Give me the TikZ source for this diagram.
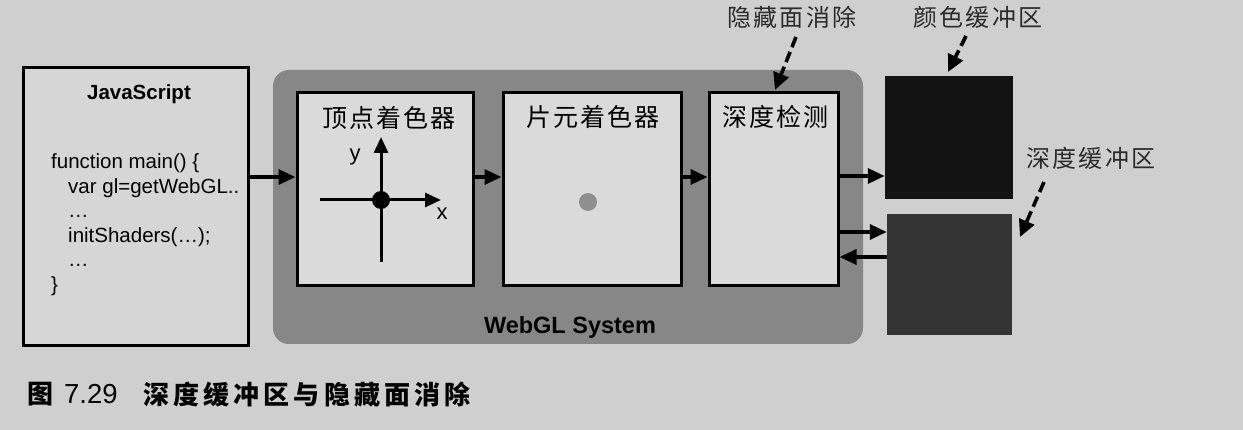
\documentclass[tikz,border=0pt]{standalone}
\usepackage{fontspec}
\setmainfont{Liberation Sans}
\newfontfamily\cjkbox[LetterSpace=8]{Noto Sans CJK SC}
\newfontfamily\cjklab[LetterSpace=10]{Noto Sans CJK SC}
\newfontfamily\cjkcap[LetterSpace=16]{Noto Sans CJK SC}
\newfontfamily\cjkplain{Noto Sans CJK SC}
\usetikzlibrary{arrows.meta}
\definecolor{bgcol}{HTML}{CFCFCF}
\definecolor{boxfill}{HTML}{DADADA}
\definecolor{jsfill}{HTML}{D6D6D6}
\definecolor{glfill}{HTML}{878787}
\definecolor{cbfill}{HTML}{131313}
\definecolor{dbfill}{HTML}{343434}
\definecolor{dotcol}{HTML}{8F8F8F}
\definecolor{labcol}{HTML}{2A2A2A}
\begin{document}
\begin{tikzpicture}[x=1pt,y=-1pt,
  arr/.style={line width=3.4pt,-{Triangle[length=17pt,width=15pt]}},
  axarr/.style={line width=3pt,-{Triangle[length=16pt,width=14pt]}},
  darr/.style={line width=3.6pt,dash pattern=on 11pt off 5pt,-{Triangle[length=17pt,width=16pt]}},
  stagebox/.style={draw=black,line width=3pt,fill=boxfill,inner sep=0pt,minimum height=193pt},
  codetxt/.style={anchor=base west,inner sep=0pt,font=\fontsize{20.5pt}{24pt}\selectfont},
  boxlab/.style={inner sep=0pt,font=\cjkbox\fontsize{25pt}{28pt}\selectfont},
  toplab/.style={inner sep=0pt,text=labcol,font=\cjklab\fontsize{24pt}{27pt}\selectfont},
  bufbox/.style={inner sep=0pt,draw=none}]
\fill[bgcol] (0,0) rectangle (1243,430);
\useasboundingbox (0,0) rectangle (1243,430);

% JavaScript box
\node[draw=black,line width=3pt,fill=jsfill,inner sep=0pt,minimum width=225pt,minimum height=278pt] (js) at (135.5,207) {};
\node[anchor=base,inner sep=0pt,font=\bfseries\fontsize{20.5pt}{24pt}\selectfont] (jst) at (139,100) {JavaScript};
\node[codetxt] (c1) at (51,169) {function main() \{};
\node[codetxt] (c2) at (68,193.5) {var gl=getWebGL..};
\node[codetxt] (c3) at (68,218) {…};
\node[codetxt] (c4) at (68,242.5) {initShaders(…);};
\node[codetxt] (c5) at (68,267) {…};
\node[codetxt] (c6) at (51,291.5) {\}};

% WebGL system
\node[fill=glfill,rounded corners=16pt,inner sep=0pt,minimum width=590pt,minimum height=274pt] (gl) at (568,207) {};
\node[anchor=base,inner sep=0pt,font=\bfseries\fontsize{23.5pt}{26pt}\selectfont] (glt) at (570,334) {WebGL System};

% stages
\node[stagebox,minimum width=176pt] (vs) at (385,189.5) {};
\node[stagebox,minimum width=178pt] (fs) at (592,189.5) {};
\node[stagebox,minimum width=129pt] (dt) at (773.5,189.5) {};
\node[boxlab] (vst) at (389,118) {顶点着色器};
\node[boxlab] (fst) at (593,117) {片元着色器};
\node[boxlab] (dtt) at (775,117) {深度检测};

% axes in vertex shader
\coordinate (ax0) at (320,200);
\coordinate (ax1) at (441,200);
\coordinate (ay0) at (381,262);
\coordinate (ay1) at (381,137);
\draw[axarr] (ax0) -- (ax1);
\draw[axarr] (ay0) -- (ay1);
\node[circle,fill=black,inner sep=0pt,minimum size=18pt] (org) at (381,200) {};
\node[inner sep=0pt,font=\fontsize{22pt}{24pt}\selectfont] (ylab) at (355,157) {y};
\node[inner sep=0pt,font=\fontsize{22pt}{24pt}\selectfont] (xlab) at (442,214) {x};

% fragment dot
\node[circle,fill=dotcol,inner sep=0pt,minimum size=18pt] (fdot) at (588,202) {};

% buffers
\node[bufbox,fill=cbfill,minimum width=128pt,minimum height=123pt] (cb) at (949,137.5) {};
\node[bufbox,fill=dbfill,minimum width=125pt,minimum height=121pt] (db) at (949.5,274.5) {};

% flow arrows
\coordinate (r1) at (0,177);
\coordinate (r2) at (0,176);
\coordinate (r3) at (0,232);
\coordinate (r4) at (0,257);
\draw[arr] (js.east |- r1) -- (vs.west |- r1);
\draw[arr] (vs.east |- r1) -- (fs.west |- r1);
\draw[arr] (fs.east |- r1) -- (dt.west |- r1);
\draw[arr] (dt.east |- r2) -- (cb.west |- r2);
\draw[arr] (dt.east |- r3) -- (db.west |- r3);
\draw[arr] (db.west |- r4) -- (dt.east |- r4);

% top labels and dashed arrows
\node[toplab] (hsr) at (792,17) {隐藏面消除};
\node[toplab] (cbl) at (978,17) {颜色缓冲区};
\node[toplab] (dbl) at (1091,158) {深度缓冲区};
\coordinate (h0) at (796,37);
\coordinate (h1) at (775,90);
\coordinate (k0) at (966,36);
\coordinate (k1) at (948,72);
\coordinate (d0) at (1044,182);
\coordinate (d1) at (1020,237);
\draw[darr] (h0) -- (h1);
\draw[darr] (k0) -- (k1);
\draw[darr] (d0) -- (d1);

% caption
\node[anchor=west,inner sep=0pt,font=\cjkplain\bfseries\fontsize{26pt}{28pt}\selectfont] (cap1) at (27,394) {图};
\node[anchor=west,inner sep=0pt,font=\fontsize{27.5pt}{28pt}\selectfont] (cap2) at (64,394) {7.29};
\node[anchor=west,inner sep=0pt,font=\cjkcap\bfseries\fontsize{26pt}{28pt}\selectfont] (cap3) at (143,394) {深度缓冲区与隐藏面消除};
\end{tikzpicture}
\end{document}
